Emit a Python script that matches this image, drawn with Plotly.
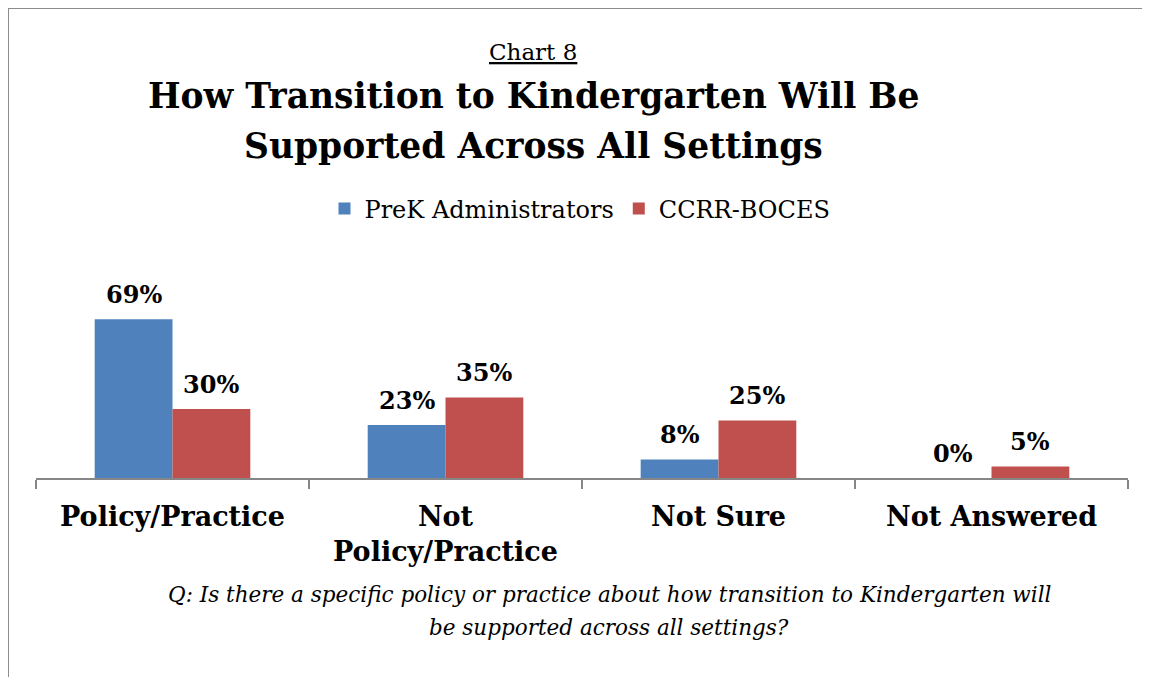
import plotly.graph_objects as go

categories = ["Policy/Practice", "Not<br>Policy/Practice", "Not Sure", "Not Answered"]
prek_admin = [0.69, 0.23, 0.08, 0.00]
ccrr_boces = [0.30, 0.35, 0.25, 0.05]
series_names = ["PreK Administrators", "CCRR-BOCES"]
colors = ["#4F81BD", "#C0504D"]

FONT = "DejaVu Serif"
OFF = 8  # page body margin
W, H = 1142, 669
# plot area in screen pixels
SL, SR, ST, SB = 36, 1128, 294, 478
L, R, T, B = SL - OFF, SR - OFF, ST - OFF, SB - OFF

def px(x):
    return (x - OFF - L) / (R - L)

def py(y):
    return (B - (y - OFF)) / (B - T)

fig = go.Figure()
offsets = [-0.5, 0.5]
for name, vals, col in zip(series_names, [prek_admin, ccrr_boces], colors):
    fig.add_trace(go.Bar(
        x=categories, y=vals, name=name, marker_color=col, marker_line_width=0,
    ))

annotations = []
bar_w = (R - L) / len(categories) * (1 - 0.43) / 2
for vals, o in zip([prek_admin, ccrr_boces], offsets):
    for c, v in zip(categories, vals):
        annotations.append(dict(
            x=c, y=v, xref="x", yref="y", text=f"<b>{v:.0%}</b>", showarrow=False,
            xshift=o * bar_w, yshift=25, xanchor="center", yanchor="middle",
            font=dict(family=FONT, size=24, color="black"),
        ))

texts = [
    dict(text="<u>Chart 8</u>", x=px(533), y=py(52), font=dict(family=FONT, size=23, color="black")),
    dict(text="<b>How Transition to Kindergarten Will Be</b>", x=px(533), y=py(96),
         font=dict(family=FONT, size=34.5, color="black")),
    dict(text="<b>Supported Across All Settings</b>", x=px(533), y=py(146),
         font=dict(family=FONT, size=34.5, color="black")),
    dict(text="<i>Q: Is there a specific policy or practice about how transition to Kindergarten will</i>",
         x=px(609), y=py(594), font=dict(family=FONT, size=21.5, color="black")),
    dict(text="<i>be supported across all settings?</i>",
         x=px(609), y=py(627), font=dict(family=FONT, size=21.5, color="black")),
]
for a in texts:
    a.update(xref="paper", yref="paper", showarrow=False, xanchor="center", yanchor="middle")
annotations += texts

border = dict(color="#8c8c8c", width=2)
fig.update_layout(
    width=W, height=H,
    margin=dict(l=L, r=W - R, t=T, b=H - B, pad=0),
    paper_bgcolor="white", plot_bgcolor="white",
    barmode="group", bargap=0.43, bargroupgap=0,
    showlegend=True,
    legend=dict(orientation="h", x=px(580), y=py(209), xanchor="center", yanchor="middle",
                font=dict(family=FONT, size=24, color="black"), itemwidth=30,
                tracegroupgap=0),
    annotations=annotations,
    shapes=[
        dict(type="line", xref="paper", yref="paper", x0=px(8), x1=px(1200), y0=py(8), y1=py(8), line=border),
        dict(type="line", xref="paper", yref="paper", x0=px(8), x1=px(8), y0=py(8), y1=py(720), line=border),
    ],
    xaxis=dict(showline=True, linecolor="#868686", linewidth=1.5, ticks="outside", tickson="boundaries",
               ticklen=9, tickcolor="#868686", tickwidth=1.5, ticklabelstandoff=14,
               tickfont=dict(family=FONT, size=27, color="black", weight="bold"), showgrid=False),
    yaxis=dict(range=[0, 0.8], visible=False, showgrid=False),
)

fig.write_html("out.html")
